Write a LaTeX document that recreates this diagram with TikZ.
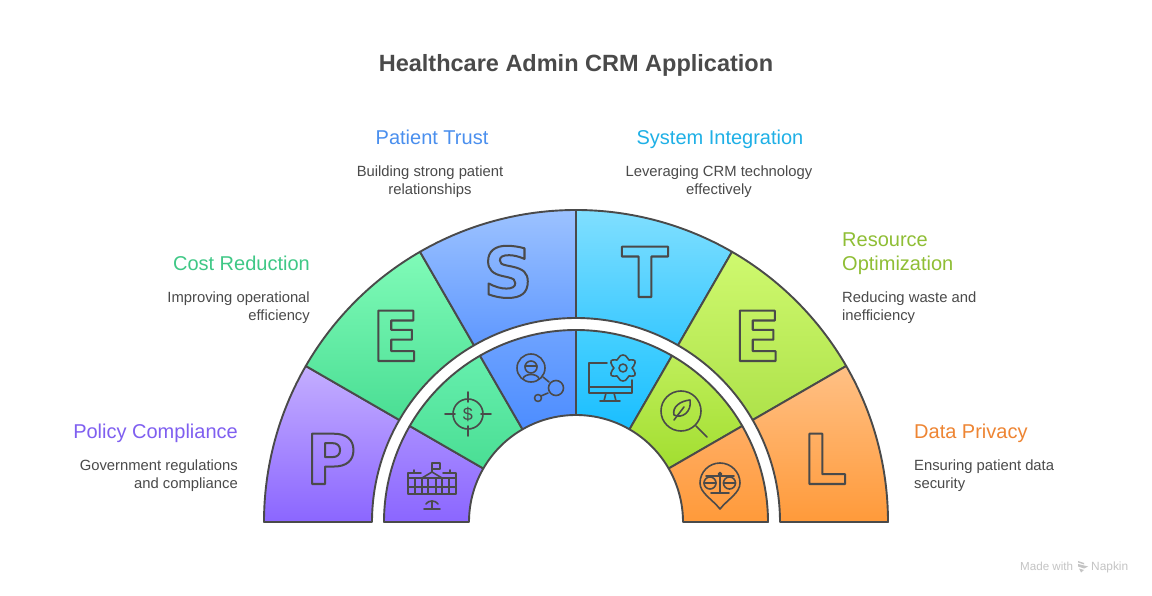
\documentclass[tikz,border=0pt]{standalone}
\usepackage{fontspec}
\setmainfont{Liberation Sans}
\newfontfamily\letterfont{DejaVu Sans Bold}
\definecolor{ink}{HTML}{4A4A4A}
\definecolor{cpur}{HTML}{7F5FF0}
\definecolor{cgrn}{HTML}{3FC886}
\definecolor{cblu}{HTML}{4A8FEE}
\definecolor{ccya}{HTML}{1FB0E6}
\definecolor{clim}{HTML}{8FBE35}
\definecolor{corg}{HTML}{EE8533}
\definecolor{wm}{HTML}{C4C4C4}
\newcommand{\seg}[6]{% r1 r2 a1 a2 top bottom
  \definecolor{segtop}{HTML}{#5}\definecolor{segbot}{HTML}{#6}%
  \shade[top color=segtop,bottom color=segbot,draw=ink,line width=1.9pt,line join=round]
    (#3:#1pt) arc[start angle=#3,end angle=#4,radius=#1pt]
    -- (#4:#2pt) arc[start angle=#4,end angle=#3,radius=#2pt] -- cycle;}
\newcommand{\outl}[1]{\special{pdf:code q 1 Tr 2 w 1 j}#1\special{pdf:code 0 Tr Q}}
\tikzset{
  ttl/.style={font=\fontsize{23.5}{28}\selectfont\bfseries,text=ink,inner sep=0pt,anchor=base},
  head/.style={font=\fontsize{20}{24}\selectfont,inner sep=0pt},
  body/.style={font=\fontsize{14.8}{18}\selectfont,text=ink,inner sep=0pt},
  bigl/.style={font=\fontsize{69}{69}\selectfont\letterfont,text=ink,inner sep=0pt,anchor=base},
  ico/.style={draw=ink,line width=1.6pt,line cap=round,line join=round,fill=none},
}
\begin{document}
\begin{tikzpicture}[x=1pt,y=1pt]
\useasboundingbox (0,0) rectangle (1152,595);
\fill[white] (0,0) rectangle (1152,595);
\begin{scope}[shift={(576,73)}]
\seg{312}{204}{150}{180}{C4AEFF}{8B66FF}
\seg{312}{204}{120}{150}{80FBB8}{4ADE94}
\seg{312}{204}{90}{120}{9CC2FF}{5F98FF}
\seg{312}{204}{60}{90}{80DFFF}{38C8FF}
\seg{312}{204}{30}{60}{CFF96F}{AEE24A}
\seg{312}{204}{0}{30}{FFC085}{FF9A3A}
\seg{192}{107}{150}{180}{A88CFF}{8B66FF}
\seg{192}{107}{120}{150}{66EFAD}{4ADE94}
\seg{192}{107}{90}{120}{6EA3FF}{4D8DFF}
\seg{192}{107}{60}{90}{46D0FF}{1ABEFF}
\seg{192}{107}{30}{60}{BFEE5A}{A2DE30}
\seg{192}{107}{0}{30}{FFAD63}{FF9A3A}
\end{scope}
\begin{scope}[yscale=-1,shift={(0,-595)}]
\node[ttl] (title) at (576,72) {Healthcare Admin CRM Application};
% letters
\node[bigl] (lP) at (331,484) {\outl{P}};
\node[bigl] (lE) at (395.5,361) {\outl{E}};
\node[bigl] (lS) at (508,297) {\outl{S}};
\node[bigl] (lT) at (645,297) {\outl{T}};
\node[bigl] (lEb) at (757,361) {\outl{E}};
\node[bigl] (lL) at (825,484) {\outl{L}};
% labels
\node[head,text=cpur,anchor=base east] (h1) at (238,439) {Policy Compliance};
\node[body,anchor=north east,align=right] (b1) at (238,460) {Government regulations\\and compliance};
\node[head,text=cgrn,anchor=base east] (h2) at (310,271) {Cost Reduction};
\node[body,anchor=north east,align=right] (b2) at (310,292) {Improving operational\\efficiency};
\node[head,text=cblu,anchor=base] (h3) at (432,145) {Patient Trust};
\node[body,anchor=north,align=center] (b3) at (430,166) {Building strong patient\\relationships};
\node[head,text=ccya,anchor=base] (h4) at (720,145) {System Integration};
\node[body,anchor=north,align=center] (b4) at (719,166) {Leveraging CRM technology\\effectively};
\node[head,text=clim,anchor=base west] (h5) at (842,247) {Resource};
\node[head,text=clim,anchor=base west] (h5b) at (842,271) {Optimization};
\node[body,anchor=north west,align=left] (b5) at (842,292) {Reducing waste and\\inefficiency};
\node[head,text=corg,anchor=base west] (h6) at (914,439) {Data Privacy};
\node[body,anchor=north west,align=left] (b6) at (914,460) {Ensuring patient data\\security};
% building icon
\draw[ico] (408,473)--(408,494)--(456,494)--(456,473)--(443,473);
\draw[ico] (408,473)--(421,473) (408,478)--(422,478) (442,478)--(456,478);
\draw[ico] (422,478)--(432,472)--(442,478)--cycle;
\draw[ico] (432,472)--(432,463)--(440,463)--(440,469)--(432,469);
\draw[ico] (408,487)--(456,487) (415,478)--(415,494) (422,478)--(422,494) (428,478)--(428,494) (436,478)--(436,494) (442,478)--(442,494) (449,478)--(449,494);
\draw[ico] (414,473)--(414,470) (450,473)--(450,470);
\draw[ico] (424,509)--(440,509) (432,501)--(432,509);
\draw[ico] (426,504) .. controls (428,500) and (436,500) .. (438,504);
% target icon
\draw[ico] (468,414) circle[radius=15];
\draw[ico] (468,392)--(468,402) (468,426)--(468,436) (445,414)--(455,414) (481,414)--(491,414);
\node[inner sep=0pt,text=ink,font=\fontsize{18}{18}\selectfont] (dollar) at (468,414) {\$};
% person network icon
\draw[ico] (531,368) circle[radius=14];
\draw[ico] (531,367) circle[radius=6];
\draw[ico] (525,366)--(537,366);
\draw[ico] (523,379) .. controls (524,373) and (538,373) .. (539,379);
\draw[ico] (543,377)--(549,382);
\draw[ico] (556,388) circle[radius=7.5];
\draw[ico] (548,393)--(541,396);
\draw[ico] (538,398) circle[radius=3.5];
% monitor icon
\draw[ico] (607,363)--(589,363)--(589,393)--(632,393)--(632,380);
\draw[ico] (589,387)--(632,387);
\draw[ico] (606,393)--(604,401) (614,393)--(616,401) (600,401)--(620,401);
\draw[ico] (623,368) circle[radius=4];
\draw[ico] (623,355) .. controls (627,355) and (627,359) .. (629,360)
  .. controls (632,360) and (636,359) .. (635,363) .. controls (635,366) and (632,367) .. (632,368)
  .. controls (632,369) and (635,370) .. (635,373) .. controls (636,377) and (632,376) .. (629,376)
  .. controls (627,377) and (627,381) .. (623,381) .. controls (619,381) and (619,377) .. (617,376)
  .. controls (614,376) and (610,377) .. (611,373) .. controls (611,370) and (614,369) .. (614,368)
  .. controls (614,367) and (611,366) .. (611,363) .. controls (610,359) and (614,360) .. (617,360)
  .. controls (619,359) and (619,355) .. (623,355) -- cycle;
% leaf icon
\draw[ico] (681,411) circle[radius=20];
\draw[ico] (696,426)--(707,437);
\draw[ico] (690,400) .. controls (680,401) and (672,407) .. (674,415) .. controls (682,419) and (692,412) .. (690,400) -- cycle;
\draw[ico] (684,407)--(674,420);
% pin icon
\draw[ico] (720,509) .. controls (712,499) and (700,493) .. (700,483) .. controls (700,472) and (709,463) .. (720,463)
  .. controls (731,463) and (740,472) .. (740,483) .. controls (740,493) and (728,499) .. (720,509) -- cycle;
\draw[ico] (706,476)--(734,476);
\draw[ico] (720,473)--(720,493) (711,493)--(729,493);
\draw[ico] (720,474) circle[radius=1.5];
\draw[ico] (710,483) circle[radius=6] (729.5,483) circle[radius=6];
\draw[ico] (704,483)--(716,483) (723.5,483)--(735.5,483);
% watermark
\node[inner sep=0pt,anchor=base west,text=wm,font=\fontsize{11.6}{13}\selectfont] (made) at (1020,570) {Made with};
\node[inner sep=0pt,anchor=base west,text=wm,font=\fontsize{11.9}{13}\selectfont] (napkin) at (1091,570) {Napkin};
\fill[wm] (1078,561)--(1084,563)--(1084,564.5)--(1078,562.5)--cycle (1078,564)--(1088,566.5)--(1084,568.5)--(1078,566.5)--cycle (1079,568.5)--(1084,570)--(1081,572.5)--cycle;
\end{scope}
\end{tikzpicture}
\end{document}
